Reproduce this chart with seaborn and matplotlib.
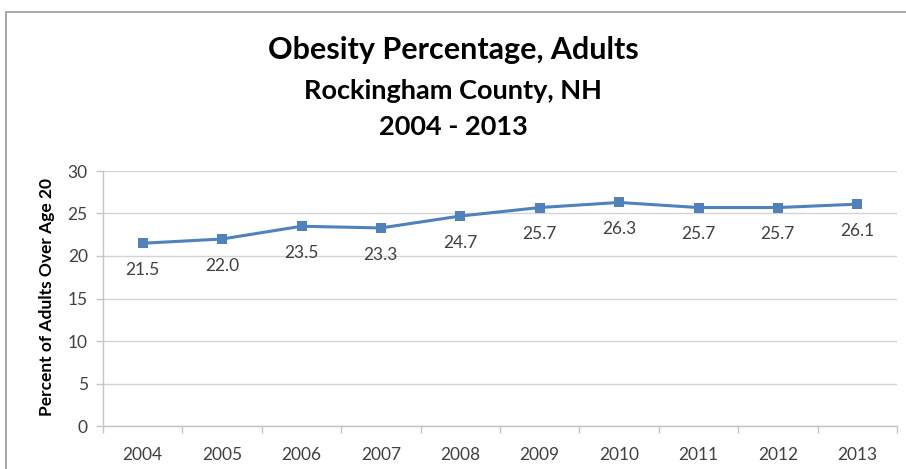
import matplotlib
matplotlib.use("Agg")
import matplotlib.pyplot as plt
from matplotlib.patches import Rectangle
import numpy as np
import pandas as pd
import seaborn as sns

years = ["2004", "2005", "2006", "2007", "2008", "2009", "2010", "2011", "2012", "2013"]
obesity_pct = [21.5, 22.0, 23.5, 23.3, 24.7, 25.7, 26.3, 25.7, 25.7, 26.1]
y_ticks = [0, 5, 10, 15, 20, 25, 30]

title_main = "Obesity Percentage, Adults"
title_sub = "Rockingham County, NH"
title_years = "2004 - 2013"
y_label = "Percent of Adults Over Age 20"

sns.set_theme(style="white")
plt.rcParams["font.family"] = ["Lato", "DejaVu Sans"]

W, H = 906, 469
fig = plt.figure(figsize=(W / 100, H / 100), dpi=100)
fig.patch.set_facecolor("white")

# chart-area frame (continues past the right and bottom edges)
fig.add_artist(Rectangle((6 / W, -0.1), 2.0, 1 - 12 / H + 0.1, transform=fig.transFigure,
                         fill=False, edgecolor="#9a9a9a", linewidth=1.2))

ax = fig.add_axes([103 / W, 1 - 426 / H, (897 - 103) / W, (426 - 171) / H])

df = pd.DataFrame({"year": years, "pct": obesity_pct})
line_color = "#4F81BD"
sns.lineplot(data=df, x="year", y="pct", ax=ax, color=line_color, linewidth=2.2,
             marker="s", markersize=7.5, markeredgewidth=0, sort=False)

ax.set_xlim(-0.5, len(years) - 0.5)
ax.set_ylim(0, 30)
ax.set_yticks(y_ticks)
ax.set_xticks(range(len(years)))
ax.set_xticklabels(years)
ax.set_xticks(np.arange(-0.5, len(years)), minor=True)

grid_color = "#d4d4d4"
ax.yaxis.grid(True, color=grid_color, linewidth=1.0)
ax.xaxis.grid(False)
for side in ("top", "right"):
    ax.spines[side].set_visible(False)
for side in ("left", "bottom"):
    ax.spines[side].set_color("#c4c4c4")
    ax.spines[side].set_linewidth(1.0)

tick_color = "#404040"
ax.tick_params(axis="y", which="major", length=5, width=1.0, color="#c4c4c4",
               labelsize=12.5, labelcolor=tick_color, pad=6, left=True)
ax.tick_params(axis="x", which="major", length=0, labelsize=12.5, labelcolor=tick_color, pad=15)
ax.tick_params(axis="x", which="minor", length=5, width=1.0, color="#c4c4c4", bottom=True)

ax.set_xlabel("")
ax.set_ylabel("")
fig.text(47 / W, 1 - 297 / H, y_label, rotation=90, ha="center", va="center",
         fontsize=12.5, fontweight="bold", color="#000000")

for i, v in enumerate(obesity_pct):
    ax.annotate(f"{v:.1f}", xy=(i, v), xytext=(0, -23), textcoords="offset points",
                ha="center", va="baseline", fontsize=12.5, color=tick_color)

fig.text(0.5, 1 - 59 / H, title_main, ha="center", va="baseline",
         fontsize=22, fontweight="bold", color="#000000")
fig.text(0.5, 1 - 99 / H, title_sub, ha="center", va="baseline",
         fontsize=19.5, fontweight="bold", color="#000000")
fig.text(0.5, 1 - 135 / H, title_years, ha="center", va="baseline",
         fontsize=19.5, fontweight="bold", color="#000000")

fig.savefig("out.png", dpi=100, facecolor="white")
